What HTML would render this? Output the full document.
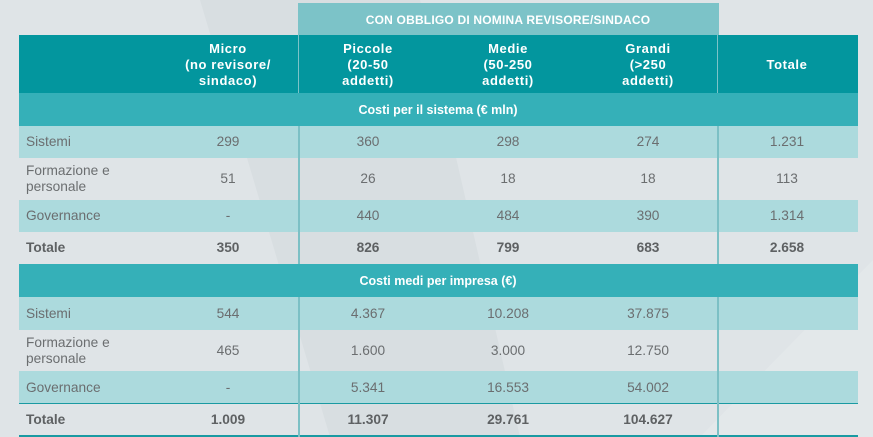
<!DOCTYPE html>
<html><head><meta charset="utf-8"><style>
*{margin:0;padding:0;box-sizing:border-box}
body{width:873px;height:437px;overflow:hidden;background:#dfe4e7;font-family:"Liberation Sans","DejaVu Sans",sans-serif;position:relative}
.a{position:absolute}
.c{position:absolute;text-align:center;font-size:13.7px;color:#6b6e70;transform:translateX(-50%);white-space:nowrap;line-height:16px}
.l{position:absolute;left:26px;font-size:13.7px;color:#6b6e70;line-height:16px}
.b{font-weight:bold;color:#5e6163}
.h{color:#fff;font-weight:bold;font-size:13px;line-height:16px;letter-spacing:0.6px}
</style></head><body>
<svg class="a" style="left:0;top:0" width="873" height="437">
<polygon points="200,0 420,0 520,437 330,437" fill="#d8dee1"/>
<polygon points="700,437 873,260 873,437" fill="#e3e8ea"/>
</svg>
<div class="a" style="left:298px;top:3px;width:421px;height:32px;background:#7cc3c8"></div>
<div class="c h" style="left:508px;top:12px;font-size:12px;letter-spacing:0.2px">CON OBBLIGO DI NOMINA REVISORE/SINDACO</div>
<div class="a" style="left:19px;top:35px;width:839px;height:58px;background:#03969e"></div>
<div class="a" style="left:19px;top:93px;width:839px;height:33px;background:#35b0b8"></div>
<div class="a" style="left:19px;top:126px;width:839px;height:32px;background:#acdadd"></div>
<div class="a" style="left:19px;top:200px;width:839px;height:32px;background:#acdadd"></div>
<div class="a" style="left:19px;top:264px;width:839px;height:33px;background:#35b0b8"></div>
<div class="a" style="left:19px;top:297px;width:839px;height:33px;background:#acdadd"></div>
<div class="a" style="left:19px;top:371px;width:839px;height:32px;background:#acdadd"></div>
<div class="a" style="left:19px;top:403px;width:839px;height:1px;background:#1a9aa2"></div>
<div class="a" style="left:19px;top:435px;width:839px;height:2px;background:#1a9aa2"></div>
<div class="a" style="left:298px;top:35px;width:1px;height:58px;background:#7cc3c8"></div>
<div class="a" style="left:717px;top:35px;width:1px;height:58px;background:#7cc3c8"></div>
<div class="a" style="left:298px;top:126px;width:2px;height:138px;background:#7cc0c5"></div>
<div class="a" style="left:717px;top:126px;width:2px;height:138px;background:#7cc0c5"></div>
<div class="a" style="left:298px;top:297px;width:2px;height:140px;background:#7cc0c5"></div>
<div class="a" style="left:717px;top:297px;width:2px;height:140px;background:#7cc0c5"></div>

<div class="c h" style="left:228px;top:41px">Micro<br>(no revisore/<br>sindaco)</div>
<div class="c h" style="left:368px;top:41px">Piccole<br>(20-50<br>addetti)</div>
<div class="c h" style="left:508px;top:41px">Medie<br>(50-250<br>addetti)</div>
<div class="c h" style="left:648px;top:41px">Grandi<br>(&gt;250<br>addetti)</div>
<div class="c h" style="left:787px;top:57px">Totale</div>
<div class="c h" style="left:438px;top:102px;font-size:12.5px;letter-spacing:0">Costi per il sistema (€ mln)</div>
<div class="c h" style="left:438px;top:273px;font-size:12.5px;letter-spacing:0">Costi medi per impresa (€)</div>

<div class="l" style="top:134px">Sistemi</div>
<div class="c" style="left:228px;top:134px">299</div><div class="c" style="left:368px;top:134px">360</div><div class="c" style="left:508px;top:134px">298</div><div class="c" style="left:648px;top:134px">274</div><div class="c" style="left:787px;top:134px">1.231</div>
<div class="l" style="top:163px">Formazione e<br>personale</div>
<div class="c" style="left:228px;top:171px">51</div><div class="c" style="left:368px;top:171px">26</div><div class="c" style="left:508px;top:171px">18</div><div class="c" style="left:648px;top:171px">18</div><div class="c" style="left:787px;top:171px">113</div>
<div class="l" style="top:208px">Governance</div>
<div class="c" style="left:228px;top:208px">-</div><div class="c" style="left:368px;top:208px">440</div><div class="c" style="left:508px;top:208px">484</div><div class="c" style="left:648px;top:208px">390</div><div class="c" style="left:787px;top:208px">1.314</div>
<div class="l b" style="top:240px">Totale</div>
<div class="c b" style="left:228px;top:240px">350</div><div class="c b" style="left:368px;top:240px">826</div><div class="c b" style="left:508px;top:240px">799</div><div class="c b" style="left:648px;top:240px">683</div><div class="c b" style="left:787px;top:240px">2.658</div>

<div class="l" style="top:306px">Sistemi</div>
<div class="c" style="left:228px;top:306px">544</div><div class="c" style="left:368px;top:306px">4.367</div><div class="c" style="left:508px;top:306px">10.208</div><div class="c" style="left:648px;top:306px">37.875</div>
<div class="l" style="top:335px">Formazione e<br>personale</div>
<div class="c" style="left:228px;top:343px">465</div><div class="c" style="left:368px;top:343px">1.600</div><div class="c" style="left:508px;top:343px">3.000</div><div class="c" style="left:648px;top:343px">12.750</div>
<div class="l" style="top:380px">Governance</div>
<div class="c" style="left:228px;top:380px">-</div><div class="c" style="left:368px;top:380px">5.341</div><div class="c" style="left:508px;top:380px">16.553</div><div class="c" style="left:648px;top:380px">54.002</div>
<div class="l b" style="top:412px">Totale</div>
<div class="c b" style="left:228px;top:412px">1.009</div><div class="c b" style="left:368px;top:412px">11.307</div><div class="c b" style="left:508px;top:412px">29.761</div><div class="c b" style="left:648px;top:412px">104.627</div>
</body></html>
